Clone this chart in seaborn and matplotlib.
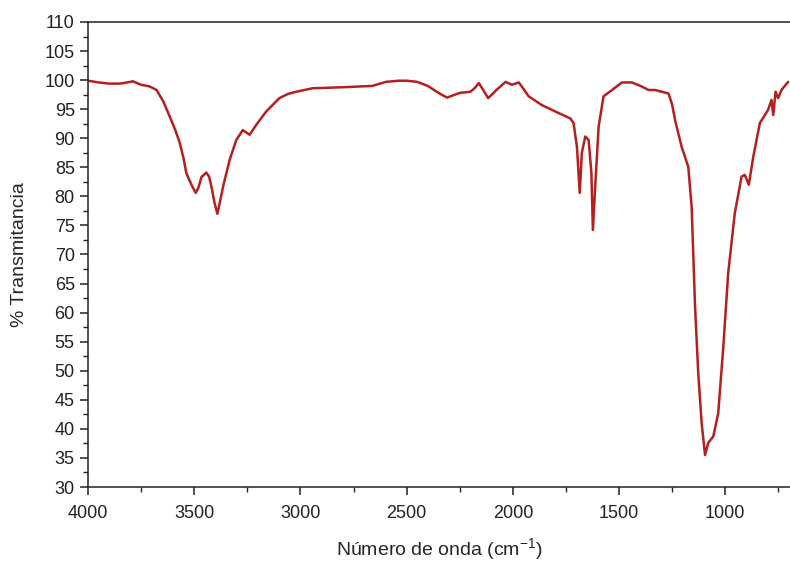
import matplotlib
matplotlib.use("Agg")
import matplotlib.pyplot as plt
import seaborn as sns
import pandas as pd
from matplotlib.ticker import MultipleLocator

# ── FTIR spectrum values ──
wavenumber = [
    4000, 3950, 3900, 3850, 3800, 3789, 3750, 3709, 3677, 3645, 3615, 3590,
    3568, 3550, 3537, 3513, 3493, 3480, 3466, 3443, 3430, 3419, 3405, 3391,
    3378, 3364, 3333, 3302, 3271, 3239, 3208, 3161, 3099, 3060, 3020, 2943,
    2860, 2785, 2662, 2597, 2535, 2500, 2450, 2400, 2350, 2310, 2280, 2250,
    2200, 2180, 2160, 2116, 2080, 2034, 2004, 1972, 1950, 1925, 1863, 1800,
    1729, 1714, 1698, 1685, 1675, 1659, 1643, 1630, 1623, 1612, 1596, 1573,
    1533, 1486, 1439, 1393, 1361, 1330, 1267, 1250, 1236, 1205, 1174, 1158,
    1142, 1127, 1111, 1095, 1080, 1056, 1033, 1009, 986, 955, 923, 908, 889,
    868, 837, 798, 782, 774, 763, 751, 735, 704,
]
transmittance = [
    99.9, 99.6, 99.4, 99.4, 99.7, 99.8, 99.2, 98.9, 98.3, 96.3, 93.7, 91.5,
    89.2, 86.5, 84.0, 82.0, 80.6, 81.5, 83.3, 84.1, 83.4, 81.7, 79.0, 77.0,
    79.2, 81.7, 86.3, 89.7, 91.4, 90.6, 92.3, 94.6, 96.9, 97.6, 98.0, 98.6,
    98.7, 98.8, 99.0, 99.7, 99.9, 99.9, 99.7, 99.0, 97.8, 97.0, 97.4, 97.8,
    98.0, 98.6, 99.5, 96.9, 98.2, 99.7, 99.2, 99.6, 98.5, 97.2, 95.7, 94.6,
    93.4, 92.6, 88.5, 80.6, 87.5, 90.3, 89.7, 84.0, 74.2, 81.7, 92.0, 97.2,
    98.3, 99.6, 99.6, 98.9, 98.3, 98.3, 97.7, 95.8, 93.1, 88.5, 85.1, 78.2,
    61.0, 49.6, 41.0, 35.5, 37.6, 38.7, 42.7, 54.1, 66.8, 77.1, 83.4, 83.7,
    82.0, 86.8, 92.6, 94.9, 96.6, 94.0, 98.0, 96.9, 98.3, 99.7,
]

df = pd.DataFrame({"wn": wavenumber, "T": transmittance})

sns.set_style("ticks")
plt.rcParams["font.family"] = ["Liberation Sans", "DejaVu Sans"]
plt.rcParams["mathtext.fontset"] = "custom"
plt.rcParams["mathtext.rm"] = "Liberation Sans"

fig = plt.figure(figsize=(7.9, 5.61), dpi=100)
ax = fig.add_axes([0.1114, 0.1319, 0.8886, 0.8289])

sns.lineplot(data=df, x="wn", y="T", sort=False, color="#b3201e",
             linewidth=1.8, ax=ax)

ax.set_xlim(4000, 695)
ax.set_ylim(30, 110)
ax.xaxis.set_major_locator(MultipleLocator(500))
ax.xaxis.set_minor_locator(MultipleLocator(250))
ax.yaxis.set_major_locator(MultipleLocator(5))
ax.yaxis.set_minor_locator(MultipleLocator(2.5))

ax.tick_params(which="major", direction="out", length=6, width=1.1,
               labelsize=13, colors="#222222")
ax.tick_params(which="minor", direction="out", length=3.5, width=1.0)
ax.tick_params(axis="x", pad=7)

for side in ["left", "bottom", "top"]:
    ax.spines[side].set_linewidth(1.1)
    ax.spines[side].set_color("#222222")
ax.spines["right"].set_visible(False)

ax.set_xlabel("Número de onda (cm$^{\\mathrm{-1}}$)", fontsize=14, labelpad=10)
ax.set_ylabel("% Transmitancia", fontsize=14, labelpad=12)

fig.savefig("out.png", dpi=100)
